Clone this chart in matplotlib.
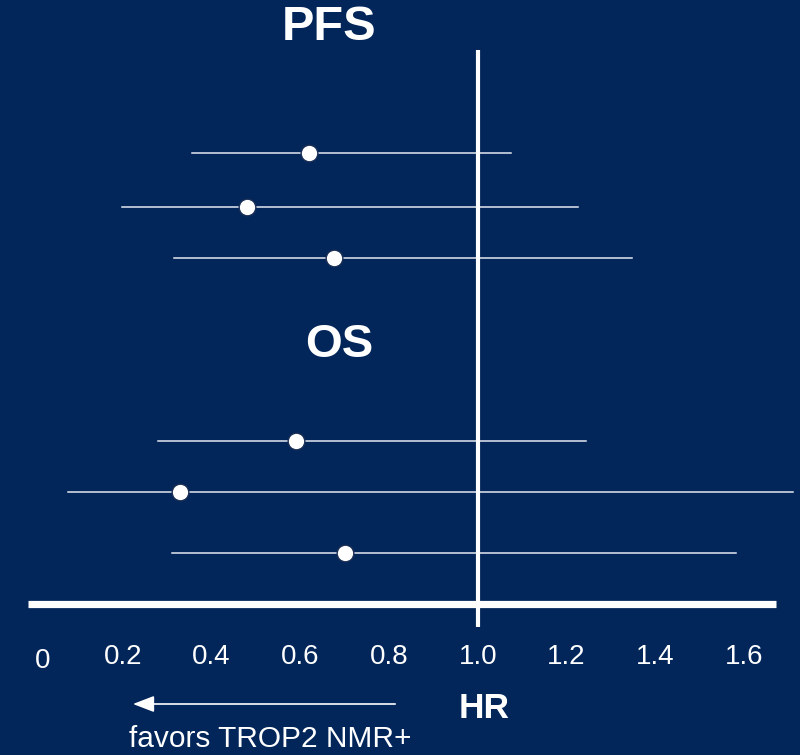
import matplotlib.pyplot as plt
import numpy as np

plt.rcParams['font.family'] = ['Liberation Sans', 'DejaVu Sans']

# hazard ratios with 95% CI
pfs_hr = [0.62, 0.48, 0.675]
pfs_lo = [0.355, 0.198, 0.315]
pfs_hi = [1.075, 1.225, 1.348]

os_hr = [0.59, 0.33, 0.70]
os_lo = [0.28, 0.077, 0.31]
os_hi = [1.243, 1.71, 1.583]

tick_vals = [0, 0.2, 0.4, 0.6, 0.8, 1.0, 1.2, 1.4, 1.6]
tick_text = ['0', '0.2', '0.4', '0.6', '0.8', '1.0', '1.2', '1.4', '1.6']

bg = '#022659'

fig = plt.figure(figsize=(8, 7.55), dpi=100, facecolor=bg)
ax = fig.add_axes([0, 0, 1, 1])
ax.set_facecolor(bg)
ax.set_xlim(-0.0766, 1.7262)
ax.set_ylim(755, 0)
ax.axis('off')

# rows are laid out in pixel units from the top
pfs_y = [153, 207, 258]
os_y = [441, 492, 553]


def draw_rows(hr, lo, hi, ys):
    for h, l, u, y in zip(hr, lo, hi, ys):
        ax.plot([l, u], [y, y], color='#e4e8f0', lw=1.1, zorder=2)
        ax.plot(h, y, 'o', ms=12, mfc='white', mec='#1a2e55', mew=1.0, zorder=4)


draw_rows(pfs_hr, pfs_lo, pfs_hi, pfs_y)
draw_rows(os_hr, os_lo, os_hi, os_y)

# reference line at HR = 1 and the x axis bar
ax.plot([1.0, 1.0], [50, 627], color='white', lw=3, zorder=3, solid_capstyle='butt')
x_left, x_right = -0.0135, 1.672
ax.plot([x_left, x_right], [604, 604], color='white', lw=5.2, zorder=3,
        solid_capstyle='butt')

for v, t in zip(tick_vals, tick_text):
    dy = 4 if t == '0' else 0
    xv = v + 0.02 if t == '0' else v
    ax.text(xv, 657 + dy, t, color='white', fontsize=20, ha='center', va='center')

ax.text(0.665, 27, 'PFS', color='white', fontsize=35, fontweight='bold',
        ha='center', va='center')
ax.text(0.687, 345, 'OS', color='white', fontsize=34, fontweight='bold',
        ha='center', va='center')
ax.text(1.015, 708, 'HR', color='white', fontsize=25.5, fontweight='bold',
        ha='center', va='center')

ax.annotate('', xy=(0.223, 704), xytext=(0.814, 704),
            arrowprops=dict(arrowstyle='-|>,head_length=1.3,head_width=0.5',
                            color='white', lw=1.2, shrinkA=0, shrinkB=0))
ax.text(0.532, 739, 'favors TROP2 NMR+', color='white', fontsize=21.5,
        ha='center', va='center')

fig.savefig('out.png', dpi=100, facecolor=bg)
